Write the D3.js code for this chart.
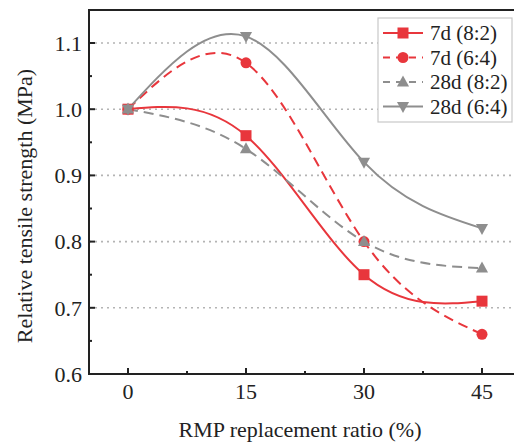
<!DOCTYPE html>
<html><head><meta charset="utf-8">
<script src="https://cdn.jsdelivr.net/npm/d3@7"></script>
<style>body{margin:0;background:#fff}</style>
</head><body>
<script>
const xValues = [0, 15, 30, 45];
const seriesNames = ["7d (8:2)", "7d (6:4)", "28d (8:2)", "28d (6:4)"];
const s7d82 = [1.0, 0.96, 0.75, 0.71];
const s7d64 = [1.0, 1.07, 0.80, 0.66];
const s28d82 = [1.0, 0.94, 0.80, 0.76];
const s28d64 = [1.0, 1.11, 0.92, 0.82];
const yTicks = [0.6, 0.7, 0.8, 0.9, 1.0, 1.1];
const xTicks = [0, 15, 30, 45];

const W = 514, H = 446;
const m = {left: 89, right: 520, top: 10, bottom: 374};
const svg = d3.select("body").append("svg").attr("width", W).attr("height", H);
const x = d3.scaleLinear().domain([0, 45]).range([128, 482]);
const y = d3.scaleLinear().domain([0.6, 1.1]).range([374, 43]);

const red = "#e8363c", gray = "#8e8e8e";
const FONT = "Liberation Serif";
const series = [
  {name: seriesNames[0], vals: s7d82, color: red, dash: null, sym: "square"},
  {name: seriesNames[1], vals: s7d64, color: red, dash: "10,6", sym: "circle"},
  {name: seriesNames[2], vals: s28d82, color: gray, dash: "10,6", sym: "up"},
  {name: seriesNames[3], vals: s28d64, color: gray, dash: null, sym: "down"}
];

// grid
svg.append("g").selectAll("line").data(yTicks.filter(d => d > 0.6)).join("line")
  .attr("x1", m.left).attr("x2", m.right).attr("y1", d => y(d)).attr("y2", d => y(d))
  .attr("stroke", "#b4b4b4").attr("stroke-width", 1.6).attr("stroke-dasharray", "2,4");

svg.append("defs").append("clipPath").attr("id", "c").append("rect")
  .attr("x", m.left).attr("y", m.top).attr("width", m.right - m.left).attr("height", m.bottom - m.top);

const line = d3.line().x((d, i) => x(xValues[i])).y(d => y(d)).curve(d3.curveNatural);

function marker(g, sym, cx, cy, color, s) {
  if (sym === "square") g.append("rect").attr("x", cx - s).attr("y", cy - s).attr("width", 2*s).attr("height", 2*s).attr("fill", color);
  else if (sym === "circle") g.append("circle").attr("cx", cx).attr("cy", cy).attr("r", s).attr("fill", color);
  else if (sym === "up") g.append("path").attr("d", `M${cx},${cy - s*1.2}L${cx + s*1.1},${cy + s*0.8}L${cx - s*1.1},${cy + s*0.8}Z`).attr("fill", color);
  else g.append("path").attr("d", `M${cx},${cy + s*1.2}L${cx + s*1.1},${cy - s*0.8}L${cx - s*1.1},${cy - s*0.8}Z`).attr("fill", color);
}

const pg = svg.append("g").attr("clip-path", "url(#c)");
series.forEach(s => {
  pg.append("path").datum(s.vals).attr("d", line).attr("fill", "none")
    .attr("stroke", s.color).attr("stroke-width", 2).attr("stroke-dasharray", s.dash);
});
series.forEach(s => {
  s.vals.forEach((v, i) => marker(pg, s.sym, x(xValues[i]), y(v), s.color, 5.5));
});

// frame
svg.append("rect").attr("x", m.left).attr("y", m.top).attr("width", m.right - m.left).attr("height", m.bottom - m.top)
  .attr("fill", "none").attr("stroke", "#222").attr("stroke-width", 2);

// y ticks
const yMinor = [0.65, 0.75, 0.85, 0.95, 1.05];
svg.append("g").selectAll("line").data(yTicks).join("line")
  .attr("x1", m.left).attr("x2", m.left + 6).attr("y1", d => y(d)).attr("y2", d => y(d)).attr("stroke", "#222").attr("stroke-width", 2);
svg.append("g").selectAll("line").data(yMinor).join("line")
  .attr("x1", m.left).attr("x2", m.left + 3).attr("y1", d => y(d)).attr("y2", d => y(d)).attr("stroke", "#222").attr("stroke-width", 2);
svg.append("g").selectAll("text").data(yTicks).join("text")
  .attr("x", 82).attr("y", d => y(d)).attr("dy", "0.35em").attr("text-anchor", "end")
  .attr("font-family", FONT).attr("font-size", 22).attr("fill", "#222").text(d => d.toFixed(1));

// x ticks
const xMinor = [7.5, 22.5, 37.5];
svg.append("g").selectAll("line").data(xTicks).join("line")
  .attr("x1", d => x(d)).attr("x2", d => x(d)).attr("y1", m.bottom).attr("y2", m.bottom - 6).attr("stroke", "#222").attr("stroke-width", 2);
svg.append("g").selectAll("line").data(xMinor).join("line")
  .attr("x1", d => x(d)).attr("x2", d => x(d)).attr("y1", m.bottom).attr("y2", m.bottom - 3).attr("stroke", "#222").attr("stroke-width", 2);
svg.append("g").selectAll("text").data(xTicks).join("text")
  .attr("x", d => x(d)).attr("y", 399).attr("text-anchor", "middle")
  .attr("font-family", FONT).attr("font-size", 22).attr("fill", "#222").text(d => d);

svg.append("text").attr("x", 300).attr("y", 437).attr("text-anchor", "middle")
  .attr("font-family", FONT).attr("font-size", 22).attr("fill", "#222").text("RMP replacement ratio (%)");
svg.append("text").attr("transform", "translate(32,206) rotate(-90)").attr("text-anchor", "middle")
  .attr("font-family", FONT).attr("font-size", 22).attr("fill", "#222").text("Relative tensile strength (MPa)");

// legend
const lg = svg.append("g");
lg.append("rect").attr("x", 378).attr("y", 18).attr("width", 134).attr("height", 104)
  .attr("fill", "#fff").attr("stroke", "#c8c8c8").attr("stroke-width", 1.2);
series.forEach((s, i) => {
  const ly = 33 + i * 24.5;
  lg.append("line").attr("x1", 383).attr("x2", 423).attr("y1", ly).attr("y2", ly)
    .attr("stroke", s.color).attr("stroke-width", 2).attr("stroke-dasharray", s.dash ? "7,6" : null);
  marker(lg, s.sym, 403, ly, s.color, 5.5);
  lg.append("text").attr("x", 430).attr("y", ly).attr("dy", "0.35em")
    .attr("font-family", FONT).attr("font-size", 21).attr("fill", "#222").text(s.name);
});
</script>
</body></html>
